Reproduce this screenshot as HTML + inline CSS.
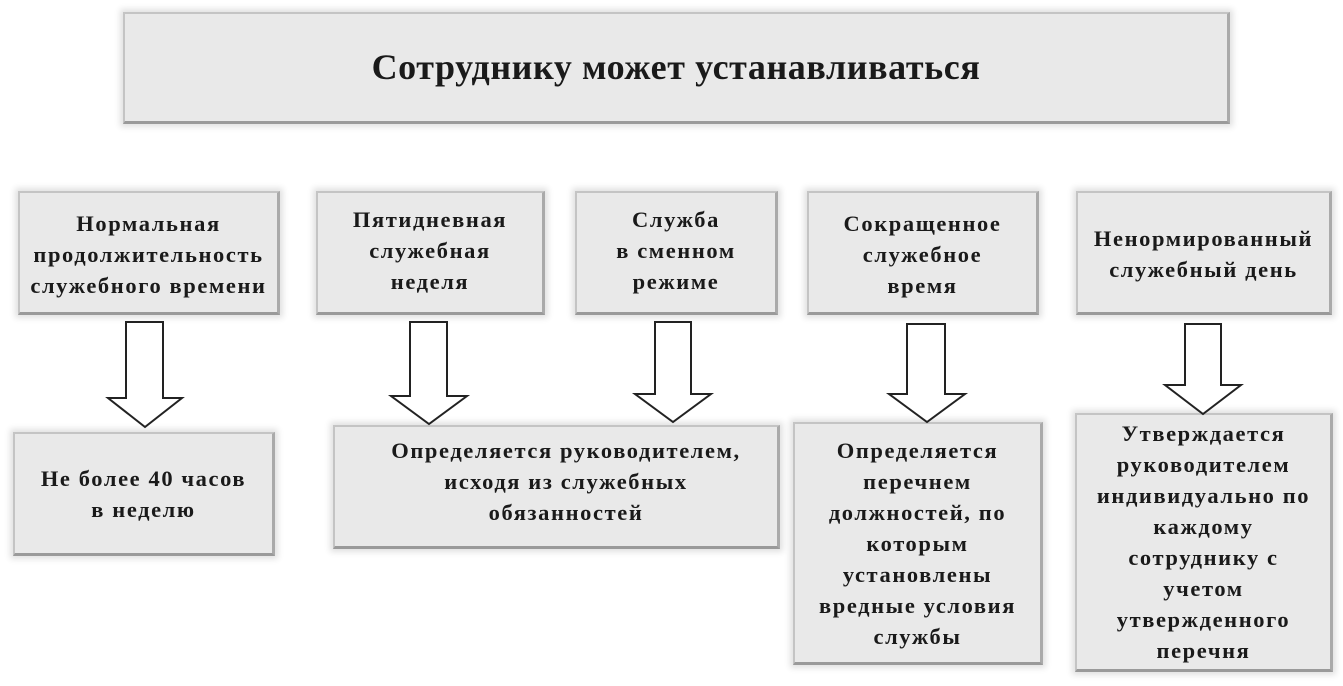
<!DOCTYPE html>
<html><head><meta charset="utf-8"><style>
body{margin:0;width:1343px;height:686px;background:#fff;position:relative;overflow:hidden;font-family:"Liberation Serif",serif;}
.b{position:absolute;box-sizing:border-box;background:#e9e9e9;border:2px solid #c4c4c4;border-bottom:3px solid #9a9a9a;border-right:3px solid #aaa;box-shadow:0 0 6px 3px rgba(0,0,0,0.12);display:flex;align-items:center;justify-content:center;text-align:center;font-weight:bold;color:#1a1a1a;font-size:22.5px;line-height:31px;letter-spacing:1.6px;white-space:nowrap;}
.t{align-items:flex-start;padding-top:14px;}
svg{position:absolute;left:0;top:0;}
</style></head><body>
<div class="b" style="left:123px;top:12px;width:1107px;height:112px;font-size:36px;letter-spacing:0.6px;">Сотруднику может устанавливаться</div>

<div class="b t" style="left:18px;top:191px;width:262px;height:124px;padding-top:15px;">Нормальная<br>продолжительность<br>служебного времени</div>
<div class="b t" style="left:316px;top:191px;width:229px;height:124px;padding-top:11px;">Пятидневная<br>служебная<br>неделя</div>
<div class="b t" style="left:575px;top:191px;width:203px;height:124px;padding-top:11px;">Служба<br>в сменном<br>режиме</div>
<div class="b t" style="left:807px;top:191px;width:232px;height:124px;padding-top:15px;">Сокращенное<br>служебное<br>время</div>
<div class="b t" style="left:1076px;top:191px;width:256px;height:124px;padding-top:30px;">Ненормированный<br>служебный день</div>

<div class="b" style="left:13px;top:432px;width:262px;height:124px;">Не более 40 часов<br>в неделю</div>
<div class="b" style="left:333px;top:425px;width:447px;height:124px;padding-bottom:10px;padding-left:20px;">Определяется руководителем,<br>исходя из служебных<br>обязанностей</div>
<div class="b" style="left:793px;top:422px;width:250px;height:243px;">Определяется<br>перечнем<br>должностей, по<br>которым<br>установлены<br>вредные условия<br>службы</div>
<div class="b" style="left:1075px;top:413px;width:258px;height:259px;">Утверждается<br>руководителем<br>индивидуально по<br>каждому<br>сотруднику с<br>учетом<br>утвержденного<br>перечня</div>

<svg width="1343" height="686">
<g fill="#fff" stroke="#222" stroke-width="2">
<polygon points="126,322 163,322 163,398 182,398 145,427 108,398 126,398"/>
<polygon points="410,322 447,322 447,396 467,396 429,424 391,396 410,396"/>
<polygon points="655,322 691,322 691,394 711,394 673,422 635,394 655,394"/>
<polygon points="907,324 945,324 945,394 965,394 927,422 889,394 907,394"/>
<polygon points="1185,324 1221,324 1221,385 1241,385 1203,414 1165,385 1185,385"/>
</g>
</svg>
</body></html>
